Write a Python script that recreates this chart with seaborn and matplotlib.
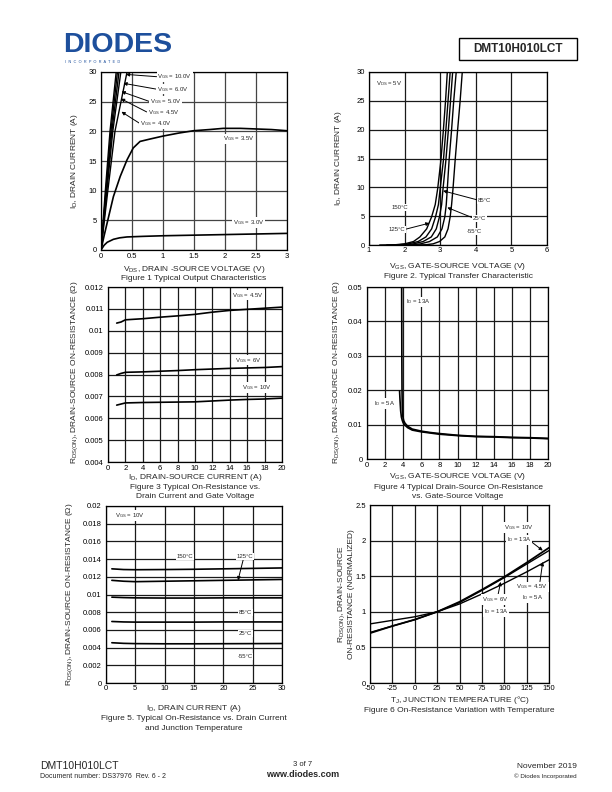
import numpy as np
import pandas as pd
import seaborn as sns
import matplotlib.pyplot as plt
from matplotlib.patches import Rectangle
from matplotlib.ticker import MultipleLocator, FuncFormatter

# Figure 1 - output characteristics (VDS, ID) per VGS
fig1_vgs = ["10.0V", "6.0V", "5.0V", "4.5V", "4.0V"]
fig1_steep_id = [0, 10, 20, 30, 32]
fig1_steep_vds = [
    [0, 0.07, 0.145, 0.245, 0.27],
    [0, 0.08, 0.16, 0.265, 0.29],
    [0, 0.085, 0.175, 0.29, 0.32],
    [0, 0.095, 0.19, 0.32, 0.35],
    [0, 0.11, 0.225, 0.42, 0.47],
]
vgs35_vds = [0, 0.05, 0.1, 0.2, 0.31, 0.42, 0.52, 0.63, 0.79, 1.0, 1.25, 1.49, 1.75, 1.97, 2.25, 2.5, 2.75, 3.0]
vgs35_id = [0, 2.4, 4.6, 9.0, 12.4, 15.2, 17.2, 18.3, 18.7, 19.2, 19.7, 20.1, 20.3, 20.5, 20.5, 20.4, 20.3, 20.1]
vgs30_vds = [0, 0.05, 0.1, 0.2, 0.3, 0.42, 0.68, 1.0, 1.5, 2.0, 2.5, 3.0]
vgs30_id = [0, 0.8, 1.3, 1.8, 2.05, 2.2, 2.3, 2.4, 2.5, 2.6, 2.7, 2.8]

# Figure 2 - transfer characteristic
fig2_temps = ["150°C", "125°C", "85°C", "25°C", "-55°C"]
fig2_id = [0, 0.05, 0.2, 0.6, 1.4, 2.8, 4.9, 7.0, 9.8, 14.7, 20, 25, 30, 31]
fig2_vgs = [
    [1.3, 1.75, 2.0, 2.25, 2.43, 2.62, 2.76, 2.86, 2.93, 3.02, 3.09, 3.15, 3.20, 3.21],
    [1.5, 1.85, 2.1, 2.38, 2.60, 2.76, 2.87, 2.95, 3.00, 3.09, 3.16, 3.22, 3.28, 3.29],
    [1.8, 2.05, 2.25, 2.52, 2.75, 2.89, 2.98, 3.04, 3.08, 3.16, 3.23, 3.29, 3.35, 3.36],
    [2.0, 2.25, 2.45, 2.70, 2.92, 3.05, 3.13, 3.17, 3.20, 3.25, 3.32, 3.38, 3.45, 3.46],
    [2.3, 2.6, 2.8, 2.98, 3.13, 3.22, 3.28, 3.32, 3.36, 3.42, 3.49, 3.56, 3.62, 3.64],
]

# Figure 3 - RDS(on) vs ID and VGS
fig3_id = [1, 1.5, 2, 4, 6, 8, 10, 12, 14, 16, 18, 20]
fig3_vgs = ["4.5V", "6V", "10V"]
fig3_rds = [
    [0.01035, 0.01040, 0.01050, 0.01055, 0.01062, 0.01068, 0.01075, 0.01085, 0.01093, 0.01098, 0.01103, 0.01108],
    [0.00798, 0.00805, 0.00810, 0.00812, 0.00815, 0.00818, 0.00822, 0.00825, 0.00828, 0.00830, 0.00832, 0.00836],
    [0.00660, 0.00665, 0.00670, 0.00672, 0.00673, 0.00674, 0.00675, 0.00679, 0.00683, 0.00686, 0.00688, 0.00692],
]

# Figure 4 - RDS(on) vs VGS
id13_vgs = [3.83, 3.84, 3.85, 3.87, 3.9, 3.95, 4.05, 4.2, 4.5, 5, 6, 7, 8, 10, 12, 14, 16, 18, 20]
id13_rds = [0.05, 0.04, 0.03, 0.02, 0.015, 0.0125, 0.0112, 0.0104, 0.0095, 0.0087, 0.0081, 0.0077, 0.0074,
            0.0069, 0.0066, 0.0065, 0.0063, 0.0062, 0.0060]
id5_vgs = [3.6, 3.65, 3.72, 3.8, 3.9, 4.0, 4.2, 4.5, 5, 6, 8, 10, 12, 14, 16, 18, 20]
id5_rds = [0.0198, 0.017, 0.014, 0.0122, 0.0112, 0.0105, 0.0098, 0.0091, 0.0084, 0.0079, 0.0072, 0.0068,
           0.0065, 0.0064, 0.0062, 0.0061, 0.0059]

# Figure 5 - RDS(on) vs ID and temperature
fig5_id = [1, 3, 5, 10, 15, 20, 25, 30]
fig5_temps = ["150°C", "125°C", "85°C", "25°C", "-55°C"]
fig5_rds = [
    [0.01290, 0.01282, 0.01280, 0.01282, 0.01285, 0.01290, 0.01295, 0.01300],
    [0.01160, 0.01150, 0.01145, 0.01150, 0.01155, 0.01160, 0.01165, 0.01170],
    [0.00970, 0.00965, 0.00962, 0.00960, 0.00960, 0.00962, 0.00962, 0.00962],
    [0.00695, 0.00690, 0.00688, 0.00688, 0.00688, 0.00690, 0.00690, 0.00690],
    [0.00455, 0.00448, 0.00445, 0.00443, 0.00443, 0.00444, 0.00445, 0.00446],
]

# Figure 6 - normalized RDS(on) vs temperature
fig6_tj = [-50, -25, 0, 25, 50, 75, 100, 125, 150]
fig6_cases = ["VGS=10V, ID=13A", "VGS=6V, ID=13A", "VGS=4.5V, ID=5A"]
fig6_rds = [
    [0.70, 0.80, 0.89, 1.0, 1.14, 1.31, 1.49, 1.69, 1.90],
    [0.71, 0.80, 0.89, 1.0, 1.13, 1.30, 1.48, 1.67, 1.86],
    [0.83, 0.88, 0.93, 1.0, 1.11, 1.25, 1.40, 1.56, 1.73],
]

sns.set_style("white")
plt.rcParams["font.family"] = ["Liberation Sans", "DejaVu Sans"]
plt.rcParams["mathtext.default"] = "regular"

W, H = 612, 792
fig = plt.figure(figsize=(W / 100, H / 100), dpi=100)


def px(x, y):
    return x / W, 1 - y / H


def make_axes(x0, y0, x1, y1, xlim, ylim, xstep, ystep, gridcolor="#1a1a1a"):
    ax = fig.add_axes([x0 / W, 1 - y1 / H, (x1 - x0) / W, (y1 - y0) / H])
    ax.set_xlim(*xlim)
    ax.set_ylim(*ylim)
    ax.xaxis.set_major_locator(MultipleLocator(xstep))
    ax.yaxis.set_major_locator(MultipleLocator(ystep))
    fmt = FuncFormatter(lambda v, p: "%g" % round(v, 6))
    ax.xaxis.set_major_formatter(fmt)
    ax.yaxis.set_major_formatter(fmt)
    ax.grid(True, color=gridcolor, lw=0.9)
    ax.tick_params(labelsize=5.5, length=0, colors="black")
    ax.tick_params(axis="x", pad=1.8)
    ax.tick_params(axis="y", pad=3)
    for s in ax.spines.values():
        s.set_color("black")
        s.set_linewidth(0.9)
    ax.set_xlabel("")
    ax.set_ylabel("")
    return ax


def ftext(x, y, s, size=6, **kw):
    fx, fy = px(x, y)
    fig.text(fx, fy, s, fontsize=size, ha=kw.pop("ha", "center"), va=kw.pop("va", "center"), **kw)


def label(ax, x, y, s, tip=None, start=None, ha="left", size=4.3):
    box = dict(fc="white", ec="none", pad=0.6)
    if tip is None:
        ax.text(x, y, s, fontsize=size, ha=ha, va="center", bbox=box, zorder=5)
    else:
        ax.annotate(s, xy=tip, xytext=(x, y), fontsize=size, ha=ha, va="center", bbox=box, zorder=5,
                    arrowprops=dict(arrowstyle="-|>", color="black", lw=0.7, mutation_scale=5,
                                    shrinkA=0, shrinkB=0, relpos=start if start else (0.0, 0.5)))


def curve(ax, x, y, lw=1.2):
    sns.lineplot(x=x, y=y, ax=ax, color="black", lw=lw, sort=False, estimator=None, zorder=3)


# ---------------- header ----------------
ftext(63, 45, "DIODES", size=20.5, ha="left", fontweight="bold", color="#1d4f9c")
ftext(65, 62, "I  N  C  O  R  P  O  R  A  T  E  D", size=2.8, ha="left", color="#1d4f9c")
fig.patches.append(Rectangle(px(459, 60), 118 / W, 22 / H, transform=fig.transFigure,
                             fill=False, ec="black", lw=1))
ftext(518, 49, "DMT10H010LCT", size=8.5, fontweight="bold")

# ---------------- Figure 1 ----------------
ax1 = make_axes(101, 72, 287, 250, (0, 3), (0, 30), 0.5, 5, gridcolor="#444444")
for vds in fig1_steep_vds:
    curve(ax1, vds, fig1_steep_id, lw=1.0)
curve(ax1, vgs35_vds, vgs35_id)
curve(ax1, vgs30_vds, vgs30_id)
label(ax1, 0.91, 29.2, "V$_{GS}$ = 10.0V", tip=(0.40, 29.6))
label(ax1, 0.90, 27.1, "V$_{GS}$ = 6.0V", tip=(0.36, 28.1))
label(ax1, 0.79, 25.0, "V$_{GS}$ = 5.0V", tip=(0.33, 26.7))
label(ax1, 0.75, 23.2, "V$_{GS}$ = 4.5V", tip=(0.32, 25.5))
label(ax1, 0.63, 21.3, "V$_{GS}$ = 4.0V", tip=(0.33, 23.3))
label(ax1, 1.97, 18.7, "V$_{GS}$ = 3.5V")
label(ax1, 2.13, 4.6, "V$_{GS}$ = 3.0V")
ftext(194, 269.5, "V$_{DS}$, DRAIN -SOURCE VOLTAGE (V)")
ftext(194, 279, "Figure 1 Typical Output Characteristics")
ftext(74, 161, "I$_D$, DRAIN CURRENT (A)", rotation=90)

# ---------------- Figure 2 ----------------
ax2 = make_axes(369, 72, 547, 245, (1, 6), (0, 30), 1, 5)
for vgs in fig2_vgs:
    curve(ax2, vgs, fig2_id, lw=1.0)
label(ax2, 1.2, 28.0, "V$_{DS}$ = 5V")
label(ax2, 1.88, 6.5, "150°C", ha="center")
label(ax2, 1.77, 2.7, "125°C", ha="center", tip=(2.70, 3.8), start=(1.0, 0.5))
label(ax2, 4.25, 7.7, "85°C", ha="center", tip=(3.08, 9.4), start=(0.0, 0.6))
label(ax2, 4.11, 4.6, "25°C", ha="center", tip=(3.20, 6.5), start=(0.0, 0.6))
label(ax2, 3.97, 2.3, "-55°C", ha="center")
ftext(458, 266.5, "V$_{GS}$, GATE-SOURCE VOLTAGE (V)")
ftext(458, 277, "Figure 2. Typical Transfer Characteristic")
ftext(338, 158, "I$_D$, DRAIN CURRENT (A)", rotation=90)

# ---------------- Figure 3 ----------------
ax3 = make_axes(108, 287, 282, 462, (0, 20), (0.004, 0.012), 2, 0.001)
for rds in fig3_rds:
    curve(ax3, fig3_id, rds)
label(ax3, 16.1, 0.01163, "V$_{GS}$ = 4.5V", ha="center")
label(ax3, 16.1, 0.00866, "V$_{GS}$ = 6V", ha="center")
label(ax3, 17.1, 0.00741, "V$_{GS}$ = 10V", ha="center")
ftext(195, 477.5, "I$_D$, DRAIN-SOURCE CURRENT (A)")
ftext(195, 487.5, "Figure 3 Typical On-Resistance vs.")
ftext(195, 497, "Drain Current and Gate Voltage")
ftext(75, 372, "R$_{DS(ON)}$, DRAIN-SOURCE ON-RESISTANCE (Ω)", rotation=90)

# ---------------- Figure 4 ----------------
ax4 = make_axes(367, 287, 548, 459, (0, 20), (0, 0.05), 2, 0.01)
curve(ax4, id13_vgs, id13_rds)
curve(ax4, id5_vgs, id5_rds)
label(ax4, 5.66, 0.0457, "I$_D$ = 13A", ha="center")
label(ax4, 1.96, 0.0162, "I$_D$ = 5A", ha="center")
ftext(458, 476, "V$_{GS}$, GATE-SOURCE VOLTAGE (V)")
ftext(458, 487, "Figure 4 Typical Drain-Source On-Resistance")
ftext(458, 496.5, "vs. Gate-Source Voltage")
ftext(337, 372, "R$_{DS(ON)}$, DRAIN-SOURCE ON-RESISTANCE (Ω)", rotation=90)

# ---------------- Figure 5 ----------------
ax5 = make_axes(106, 506, 282, 683, (0, 30), (0, 0.02), 5, 0.002)
for rds in fig5_rds:
    curve(ax5, fig5_id, rds)
label(ax5, 4.1, 0.0189, "V$_{GS}$ = 10V", ha="center")
label(ax5, 13.5, 0.01425, "150°C", ha="center")
label(ax5, 23.7, 0.0143, "125°C", ha="center", tip=(22.5, 0.0116), start=(0.4, 0.0))
label(ax5, 23.7, 0.0080, "85°C", ha="center")
label(ax5, 23.7, 0.0056, "25°C", ha="center")
label(ax5, 23.7, 0.0030, "-55°C", ha="center")
ftext(194, 708, "I$_D$, DRAIN CURRENT (A)")
ftext(194, 719, "Figure 5. Typical On-Resistance vs. Drain Current")
ftext(194, 729, "and Junction Temperature")
ftext(70, 594, "R$_{DS(ON)}$, DRAIN-SOURCE ON-RESISTANCE (Ω)", rotation=90)

# ---------------- Figure 6 ----------------
ax6 = make_axes(370, 505, 549, 683, (-50, 150), (0, 2.5), 25, 0.5)
curve(ax6, fig6_tj, fig6_rds[0], lw=1.3)
curve(ax6, fig6_tj, fig6_rds[1], lw=1.0)
curve(ax6, fig6_tj, fig6_rds[2], lw=1.0)
label(ax6, 116, 2.18, "V$_{GS}$ = 10V", ha="center")
label(ax6, 116.5, 2.01, "I$_D$ = 13A", ha="center", tip=(143, 1.86), start=(1.0, 0.3))
label(ax6, 131, 1.35, "V$_{GS}$ = 4.5V", ha="center", tip=(143, 1.70), start=(0.75, 1.0))
label(ax6, 132, 1.20, "I$_D$ = 5A", ha="center")
label(ax6, 90, 1.17, "V$_{GS}$ = 6V", ha="center", tip=(96, 1.42), start=(0.6, 1.0))
label(ax6, 91, 1.00, "I$_D$ = 13A", ha="center")
ftext(459.5, 700, "T$_J$, JUNCTION TEMPERATURE (°C)")
ftext(459.5, 710.5, "Figure 6 On-Resistance Variation with Temperature")
ftext(341.5, 594, "R$_{DS(ON)}$, DRAIN-SOURCE", rotation=90)
ftext(351.5, 594, "ON-RESISTANCE (NORMALIZED)", rotation=90)

# ---------------- footer ----------------
ftext(40, 766, "DMT10H010LCT", size=7.5, ha="left")
ftext(40, 776, "Document number: DS37976  Rev. 6 - 2", size=5, ha="left")
ftext(303, 765, "3 of 7", size=5.5)
ftext(303, 774.5, "www.diodes.com", size=6.5, fontweight="bold")
ftext(577, 766, "November 2019", size=6, ha="right")
ftext(577, 776, "© Diodes Incorporated", size=4.5, ha="right")

fig.savefig("out.png", dpi=100)
